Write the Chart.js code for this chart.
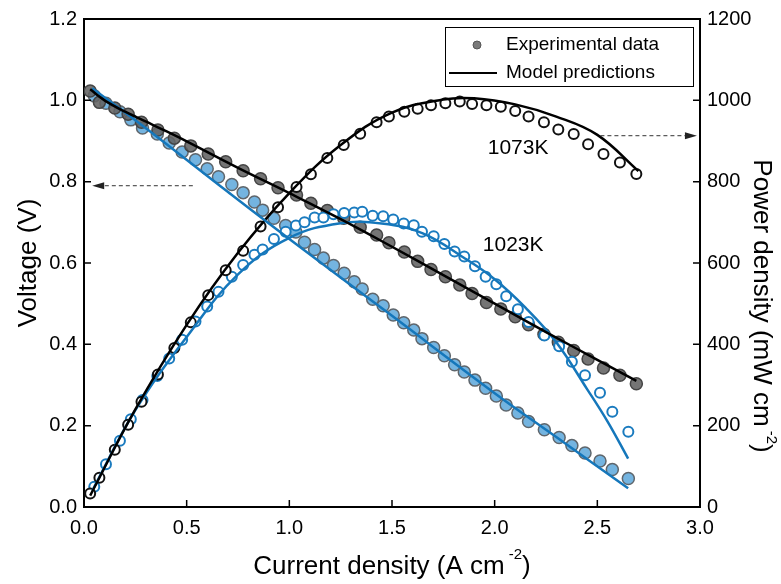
<!DOCTYPE html>
<html>
<head>
<meta charset="utf-8">
<script src="https://cdn.jsdelivr.net/npm/chart.js@4/dist/chart.umd.min.js"></script>
<style>
html,body{margin:0;padding:0;background:#fff;}
#wrap{width:781px;height:584px;position:relative;}
canvas{display:block;}
</style>
</head>
<body>
<div id="wrap"><canvas id="c" width="781" height="584"></canvas></div>
<script>
// ---------- data ----------
const xTickLabels = ["0.0","0.5","1.0","1.5","2.0","2.5","3.0"];
const voltageTickLabels = ["0.0","0.2","0.4","0.6","0.8","1.0","1.2"];
const powerTickLabels = ["0","200","400","600","800","1000","1200"];

// 1073 K experimental
const current1073 = [0.03,0.075,0.15,0.215,0.28,0.36,0.44,0.52,0.605,0.69,0.775,0.86,0.945,1.035,1.105,1.185,1.265,1.345,1.425,1.485,1.56,1.625,1.69,1.76,1.83,1.89,1.96,2.03,2.10,2.165,2.24,2.31,2.385,2.455,2.53,2.61,2.69];
const voltage1073 = [1.023,0.995,0.981,0.966,0.946,0.927,0.907,0.888,0.868,0.849,0.827,0.807,0.785,0.767,0.747,0.729,0.710,0.688,0.669,0.650,0.627,0.604,0.584,0.566,0.546,0.525,0.503,0.487,0.468,0.448,0.425,0.405,0.385,0.364,0.342,0.324,0.303];
const power1073 = [33,72,141,202,259,326,391,454,521,582,630,690,737,787,818,858,890,918,946,960,972,979,988,993,997,991,988,984,974,960,946,928,917,892,868,847,819];

// 1023 K experimental
const current1023 = [0.05,0.107,0.175,0.228,0.285,0.357,0.415,0.478,0.543,0.60,0.655,0.72,0.775,0.83,0.87,0.925,0.982,1.032,1.074,1.123,1.166,1.215,1.267,1.316,1.355,1.406,1.457,1.506,1.557,1.606,1.646,1.703,1.755,1.805,1.852,1.904,1.956,2.008,2.056,2.113,2.165,2.242,2.314,2.376,2.44,2.513,2.573,2.651];
const voltage1023 = [1.011,0.993,0.972,0.952,0.932,0.917,0.895,0.873,0.854,0.832,0.812,0.793,0.773,0.750,0.730,0.710,0.692,0.676,0.651,0.633,0.612,0.594,0.575,0.554,0.536,0.511,0.495,0.472,0.453,0.435,0.414,0.392,0.372,0.350,0.332,0.312,0.292,0.273,0.251,0.231,0.210,0.190,0.171,0.151,0.133,0.113,0.092,0.070];
const power1023 = [50,105,163,216,263,322,365,411,456,493,529,566,595,620,633,659,677,692,700,712,712,720,723,724,726,716,715,707,697,693,677,666,647,628,616,592,566,548,518,486,455,422,395,357,324,281,234,185];

// Model predictions
const modelVCurrent1073 = [0.03,0.1,0.2,0.3,0.4,0.5,0.75,1.0,1.25,1.5,1.75,2.0,2.25,2.5,2.69];
const modelVoltage1073 = [1.027,1.000,0.972,0.948,0.924,0.899,0.834,0.772,0.708,0.640,0.570,0.500,0.430,0.362,0.310];
const modelVCurrent1023 = [0.04,0.3,0.7,1.0,1.5,2.0,2.3,2.65];
const modelVoltage1023 = [1.030,0.932,0.775,0.659,0.470,0.280,0.172,0.046];
const modelPCurrent1073 = [0.03,0.25,0.5,0.75,1.0,1.25,1.5,1.75,1.9,2.1,2.3,2.5,2.7];
const modelPower1073 = [28,240,448,625,772,890,970,1002,1005,990,960,915,826];
const modelPCurrent1023 = [0.04,0.25,0.5,0.75,1.0,1.25,1.45,1.65,1.85,2.0,2.15,2.3,2.45,2.55,2.65];
const modelPower1023 = [40,238,418,572,662,698,697,673,613,560,490,405,290,210,119];

// annotations (data coordinates)
const tempLabels = ["1073K","1023K"];
const tempLabelX = [2.114, 2.09];
const tempLabelP = [883, 643];
const arrowLeft = {x0:0.53, x1:0.04, v:0.79};
const arrowRight = {x0:2.515, x1:2.985, p:913};

// ---------- helpers ----------
const pts = (xs, ys) => xs.map((x,i)=>({x:x, y:ys[i]}));
const FONT = "'Liberation Sans', Arial, Helvetica, sans-serif";
Chart.defaults.font.family = FONT;
Chart.defaults.color = '#000';

const BLUE = '#1a7bbf';

function drawRich(ctx, parts, cx, cy, angle){
  ctx.save();
  ctx.translate(cx, cy);
  ctx.rotate(angle);
  ctx.textBaseline = 'alphabetic';
  ctx.textAlign = 'left';
  let total = 0;
  parts.forEach(p=>{ctx.font = p.s+'px '+FONT; p.w = ctx.measureText(p.t).width + (p.gap||0); total += p.w;});
  let x = -total/2;
  parts.forEach(p=>{ctx.font = p.s+'px '+FONT; ctx.fillStyle='#000'; ctx.fillText(p.t, x + (p.pre||0), -(p.raise||0)); x += p.w;});
  ctx.restore();
}

const decor = {
  id:'decor',
  afterDraw(chart){
    const {ctx, chartArea:a, scales} = chart;
    const sx = scales.x, sy = scales.y, sp = scales.y2;
    ctx.save();
    // top frame
    ctx.strokeStyle = '#000';
    ctx.lineWidth = 2;
    ctx.beginPath(); ctx.moveTo(a.left-1, a.top); ctx.lineTo(a.right+1, a.top); ctx.stroke();
    // inward ticks
    ctx.lineWidth = 1.5;
    ctx.beginPath();
    sx.ticks.forEach(t=>{const p=sx.getPixelForValue(t.value); ctx.moveTo(p,a.bottom); ctx.lineTo(p,a.bottom-7);});
    sy.ticks.forEach(t=>{const p=sy.getPixelForValue(t.value); ctx.moveTo(a.left,p); ctx.lineTo(a.left+7,p);});
    sp.ticks.forEach(t=>{const p=sp.getPixelForValue(t.value); ctx.moveTo(a.right,p); ctx.lineTo(a.right-7,p);});
    ctx.stroke();

    // dashed arrows
    ctx.strokeStyle = '#333'; ctx.fillStyle = '#222'; ctx.lineWidth = 1;
    ctx.setLineDash([4,3]);
    let y = sy.getPixelForValue(arrowLeft.v);
    let x0 = sx.getPixelForValue(arrowLeft.x0), x1 = sx.getPixelForValue(arrowLeft.x1);
    ctx.beginPath(); ctx.moveTo(x0,y); ctx.lineTo(x1+10,y); ctx.stroke();
    ctx.setLineDash([]);
    ctx.beginPath(); ctx.moveTo(x1,y); ctx.lineTo(x1+12,y-3.5); ctx.lineTo(x1+12,y+3.5); ctx.closePath(); ctx.fill();
    ctx.setLineDash([4,3]);
    y = sp.getPixelForValue(arrowRight.p);
    x0 = sx.getPixelForValue(arrowRight.x0); x1 = sx.getPixelForValue(arrowRight.x1);
    ctx.beginPath(); ctx.moveTo(x0,y); ctx.lineTo(x1-10,y); ctx.stroke();
    ctx.setLineDash([]);
    ctx.beginPath(); ctx.moveTo(x1,y); ctx.lineTo(x1-12,y-3.5); ctx.lineTo(x1-12,y+3.5); ctx.closePath(); ctx.fill();

    // temperature labels
    ctx.fillStyle = '#000';
    ctx.font = '21px '+FONT; ctx.textAlign='center'; ctx.textBaseline='middle';
    tempLabels.forEach((t,i)=>{ctx.fillText(t, sx.getPixelForValue(tempLabelX[i]), sp.getPixelForValue(tempLabelP[i]));});

    // legend box
    const bx = a.right-255, by = a.top+8, bw = 248, bh = 59;
    ctx.lineWidth = 1; ctx.strokeStyle = '#000';
    ctx.strokeRect(bx+0.5, by+0.5, bw, bh);
    const r1 = by+18, r2 = by+46;
    ctx.beginPath(); ctx.arc(bx+32, r1, 4, 0, Math.PI*2);
    ctx.fillStyle = '#7a7a7a'; ctx.fill(); ctx.strokeStyle='#555'; ctx.stroke();
    ctx.beginPath(); ctx.strokeStyle='#000'; ctx.lineWidth=2; ctx.moveTo(bx+4, r2); ctx.lineTo(bx+52, r2); ctx.stroke();
    ctx.fillStyle='#000'; ctx.font='19px '+FONT; ctx.textAlign='left'; ctx.textBaseline='middle';
    ctx.fillText('Experimental data', bx+61, r1);
    ctx.fillText('Model predictions', bx+61, r2);

    // axis titles
    drawRich(ctx, [{t:'Current density (A cm', s:26},{t:'-2', s:15, raise:15, pre:4, gap:4},{t:')', s:26}], (a.left+a.right)/2, 574, 0);
    drawRich(ctx, [{t:'Voltage (V)', s:26}], 36, (a.top+a.bottom)/2, -Math.PI/2);
    drawRich(ctx, [{t:'Power density (mW cm', s:26},{t:'-2', s:15, raise:13, pre:4, gap:4},{t:')', s:26}], 754, 306, Math.PI/2);
    ctx.restore();
  }
};

const lineDs = (label, data, color, axis) => ({
  type:'scatter', label, data, yAxisID:axis, showLine:true, pointRadius:0, pointHoverRadius:0,
  borderColor:color, borderWidth:2.5, tension:0.4, fill:false, order:0
});

const chart = new Chart(document.getElementById('c'), {
  type:'scatter',
  data:{
    datasets:[
      {label:'1073K voltage (exp)', data:pts(current1073, voltage1073), yAxisID:'y', pointRadius:6,
       backgroundColor:'rgba(98,98,98,0.88)', borderColor:'#454545', borderWidth:1.5, order:3},
      {label:'1023K voltage (exp)', data:pts(current1023, voltage1023), yAxisID:'y', pointRadius:6,
       backgroundColor:'#74b4e0', borderColor:'#5f666c', borderWidth:1.5, order:3},
      {label:'1073K power (exp)', data:pts(current1073, power1073), yAxisID:'y2', pointRadius:5,
       backgroundColor:'#ffffff', borderColor:'#111', borderWidth:2, order:2},
      {label:'1023K power (exp)', data:pts(current1023, power1023), yAxisID:'y2', pointRadius:5,
       backgroundColor:'#ffffff', borderColor:BLUE, borderWidth:2, order:2},
      lineDs('1073K voltage (model)', pts(modelVCurrent1073, modelVoltage1073), '#000', 'y'),
      lineDs('1023K voltage (model)', pts(modelVCurrent1023, modelVoltage1023), '#1577bb', 'y'),
      lineDs('1073K power (model)', pts(modelPCurrent1073, modelPower1073), '#000', 'y2'),
      lineDs('1023K power (model)', pts(modelPCurrent1023, modelPower1023), '#1577bb', 'y2')
    ]
  },
  options:{
    responsive:false, animation:false,
    layout:{padding:{top:15,left:0,right:0,bottom:0}},
    plugins:{legend:{display:false}, tooltip:{enabled:false}},
    scales:{
      x:{type:'linear', position:'bottom', min:0, max:3,
         afterFit:s=>{s.height=77;},
         grid:{display:false, drawTicks:false},
         border:{display:true, color:'#000', width:2},
         ticks:{stepSize:0.5, padding:9, font:{size:20}, color:'#000', maxRotation:0,
                callback:(v,i)=>xTickLabels[i]}},
      y:{type:'linear', position:'left', min:0, max:1.2,
         afterFit:s=>{s.width=84;},
         grid:{display:false, drawTicks:false},
         border:{display:true, color:'#000', width:2},
         ticks:{stepSize:0.2, padding:7, font:{size:20}, color:'#000',
                callback:(v,i)=>voltageTickLabels[i]}},
      y2:{type:'linear', position:'right', min:0, max:1200,
         afterFit:s=>{s.width=81;},
         grid:{display:false, drawTicks:false},
         border:{display:true, color:'#000', width:2},
         ticks:{stepSize:200, padding:7, font:{size:20}, color:'#000',
                callback:(v,i)=>powerTickLabels[i]}}
    }
  },
  plugins:[decor]
});
</script>
</body>
</html>
